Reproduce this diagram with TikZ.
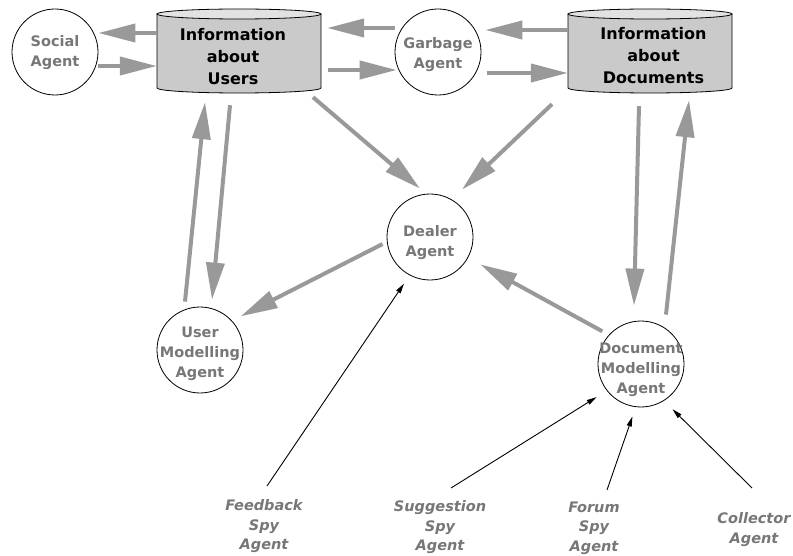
\documentclass[tikz,border=0pt]{standalone}
\usepackage{fontspec}
\newfontfamily\djv{DejaVu Sans}
\usetikzlibrary{arrows.meta}
\definecolor{arrgray}{HTML}{999999}
\definecolor{txtgray}{HTML}{777777}
\definecolor{cylfill}{HTML}{CACACA}
\definecolor{cyltop}{HTML}{E2E2E2}
\newcommand\ntext[2]{\raisebox{-#1}[0pt][0pt]{\begin{tabular}{@{}c@{}}#2\end{tabular}}}
\begin{document}
\begin{tikzpicture}[x=1pt,y=-1pt,
 agent/.style={circle,draw=black,line width=0.8pt,minimum size=86pt,inner sep=0pt,font=\djv\bfseries\fontsize{14.5}{20}\selectfont,text=txtgray},
 store/.style={rectangle,minimum width=164pt,minimum height=80pt,inner sep=0pt,font=\djv\bfseries\fontsize{16}{22}\selectfont},
 spy/.style={anchor=north,inner sep=0pt,align=center,font=\djv\bfseries\itshape\fontsize{14.5}{19.5}\selectfont,text=txtgray},
 flow/.style={draw=arrgray,line width=4pt,-{Triangle[length=37pt,width=18pt]}},
 feed/.style={draw=black,line width=0.9pt,-{Triangle[length=10pt,width=5pt]}},
 cylline/.style={draw=black,line width=0.8pt}]
\fill[white] (0,0) rectangle (793,556);
\useasboundingbox (0,0) rectangle (793,556);
% cylinders
\fill[cylfill] (157,14) -- (157,88) arc[start angle=180,end angle=360,x radius=82pt,y radius=5pt] -- (321,14) -- cycle;
\draw[cylline] (157,14) -- (157,88) arc[start angle=180,end angle=360,x radius=82pt,y radius=5pt] -- (321,14);
\draw[cylline,fill=cyltop] (239,14) ellipse [x radius=82pt,y radius=5pt];
\fill[cylfill] (568,14) -- (568,88) arc[start angle=180,end angle=360,x radius=82pt,y radius=5pt] -- (732,14) -- cycle;
\draw[cylline] (568,14) -- (568,88) arc[start angle=180,end angle=360,x radius=82pt,y radius=5pt] -- (732,14);
\draw[cylline,fill=cyltop] (650,14) ellipse [x radius=82pt,y radius=5pt];
% nodes
\node[agent] (social) at (55,52) {\ntext{3.9pt}{Social\\Agent}};
\node[store] (users) at (239,51) {\ntext{11pt}{Information\\about\\Users}\hspace*{12pt}};
\node[agent] (garbage) at (438,52) {\ntext{5.9pt}{Garbage\\Agent}};
\node[store] (docs) at (650,51) {\hspace*{7pt}\ntext{10.4pt}{Information\\about\\Documents}};
\node[agent] (dealer) at (430,237) {\ntext{8.9pt}{Dealer\\Agent}};
\node[agent] (umod) at (200,350) {\ntext{6.9pt}{User\\Modelling\\Agent}};
\node[agent] (dmod) at (641,364) {\ntext{8.9pt}{Document\\Modelling\\Agent}};
\node[spy] (fb) at (264,499.5) {Feedback\\Spy\\Agent};
\node[spy] (sg) at (440,500.5) {Suggestion\\Spy\\Agent};
\node[spy] (fo) at (594,501.5) {Forum\\Spy\\Agent};
\node[spy] (co) at (754,512.5) {Collector\\Agent};
% thick flows
\draw[flow] ([yshift=18pt]users.west) -- ([yshift=19pt]social.east);
\draw[flow] ([yshift=-14pt]social.east) -- ([yshift=-15pt]users.west);
\draw[flow] ([yshift=24pt]garbage.west) -- ([xshift=6pt,yshift=23pt]users.east);
\draw[flow] ([xshift=7pt,yshift=-19pt]users.east) -- ([xshift=2pt,yshift=-18pt]garbage.west);
\draw[flow] ([yshift=21pt]docs.west) -- ([xshift=4pt,yshift=22pt]garbage.east);
\draw[flow] ([xshift=6pt,yshift=-21pt]garbage.east) -- ([yshift=-22pt]docs.west);
\draw[flow] ([xshift=74pt,yshift=-6pt]users.south) -- ([xshift=-10pt,yshift=5pt]dealer.north);
\draw[flow] ([xshift=-98pt,yshift=-13pt]docs.south) -- ([xshift=32pt,yshift=4pt]dealer.north);
\draw[flow] ([xshift=-11pt,yshift=-15pt]docs.south) -- ([xshift=-7pt,yshift=15pt]dmod.north);
\draw[flow] ([xshift=25pt,yshift=6pt]dmod.north) -- ([xshift=39pt,yshift=-9pt]docs.south);
\draw[flow] ([xshift=-15pt,yshift=5pt]umod.north) -- ([xshift=-34pt,yshift=-11pt]users.south);
\draw[flow] ([xshift=-9pt,yshift=-14pt]users.south) -- ([xshift=12pt,yshift=7pt]umod.north);
\draw[flow] ([xshift=-4pt,yshift=-7pt]dealer.west) -- ([xshift=10pt,yshift=3pt]umod.north east);
\draw[flow] ([xshift=-8pt,yshift=2pt]dmod.north west) -- ([xshift=12pt,yshift=-7pt]dealer.-28);
% thin spy links
\draw[feed,shorten >=10pt] ([xshift=3pt,yshift=13.5pt]fb.north) -- (dealer.242);
\draw[feed,shorten >=12pt] ([xshift=11pt,yshift=12.5pt]sg.north) -- (dmod.218);
\draw[feed,shorten >=10pt] ([xshift=13pt,yshift=11.5pt]fo.north) -- (dmod.-97);
\draw[feed,shorten >=12pt] ([xshift=-2pt,yshift=24.5pt]co.north) -- (dmod.-58);
\end{tikzpicture}
\end{document}
